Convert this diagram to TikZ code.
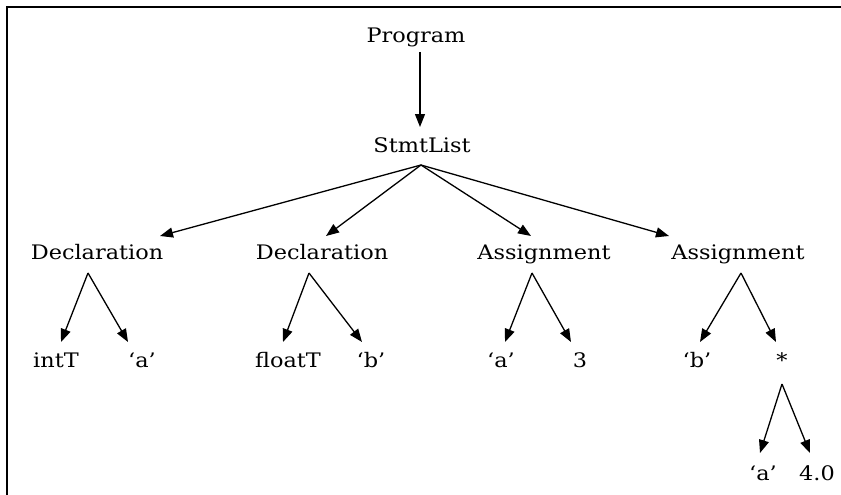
\documentclass[tikz,border=0pt]{standalone}
\usepackage{fontspec}
\setmainfont{DejaVu Serif}[FakeStretch=1.12]
\usetikzlibrary{arrows.meta,calc}
\tikzset{
  lbl/.style={anchor=base,inner sep=0pt,font=\fontsize{20}{24}\selectfont},
  arr/.style={line width=1.3pt,-{Triangle[length=13pt,width=10pt]}},
  frame/.style={line width=1.3pt}
}
\begin{document}
\begin{tikzpicture}[x=1pt,y=-1pt]
\useasboundingbox (0,0) rectangle (841,495);
\draw[frame] (7,495) -- (7,7) -- (841,7);
% nodes
\node[lbl] (prog) at (416,43) {Program};
\node[lbl] (stmt) at (422,152) {StmtList};
\node[lbl] (d1) at (97,259) {Declaration};
\node[lbl] (d2) at (322,259) {Declaration};
\node[lbl] (a1) at (544,259) {Assignment};
\node[lbl] (a2) at (738,259) {Assignment};
\node[lbl] (i1) at (56,367) {intT};
\node[lbl] (ia) at (142,367) {‘a’};
\node[lbl] (f) at (288,367) {floatT};
\node[lbl] (fb) at (371,367) {‘b’};
\node[lbl] (aa) at (501,367) {‘a’};
\node[lbl] (three) at (580,367) {3};
\node[lbl] (bb) at (697,367) {‘b’};
\node[lbl] (star) at (782,367) {*};
\node[lbl] (qa) at (763,480) {‘a’};
\node[lbl] (four) at (817,480) {4.0};
% edges
\draw[arr] ($(prog.base)+(4,9)$) -- ($(stmt.base)+(-2,-25)$);
\draw[arr] ($(stmt.base)+(-1,13)$) -- ($(d1.base)+(63,-23)$);
\draw[arr] ($(stmt.base)+(-1,13)$) -- ($(d2.base)+(4,-23)$);
\draw[arr] ($(stmt.base)+(-1,13)$) -- ($(a1.base)+(-13,-23)$);
\draw[arr] ($(stmt.base)+(-1,13)$) -- ($(a2.base)+(-69,-23)$);
\draw[arr] ($(d1.base)+(-9,14)$) -- ($(i1.base)+(5,-25)$);
\draw[arr] ($(d1.base)+(-9,14)$) -- ($(ia.base)+(-14,-25)$);
\draw[arr] ($(d2.base)+(-13,14)$) -- ($(f.base)+(-5,-25)$);
\draw[arr] ($(d2.base)+(-13,14)$) -- ($(fb.base)+(-9,-25)$);
\draw[arr] ($(a1.base)+(-12,14)$) -- ($(aa.base)+(4,-25)$);
\draw[arr] ($(a1.base)+(-12,14)$) -- ($(three.base)+(-9,-25)$);
\draw[arr] ($(a2.base)+(3,14)$) -- ($(bb.base)+(3,-25)$);
\draw[arr] ($(a2.base)+(3,14)$) -- ($(star.base)+(-6,-25)$);
\draw[arr] ($(star.base)+(0,17)$) -- ($(qa.base)+(-3,-27)$);
\draw[arr] ($(star.base)+(0,17)$) -- ($(four.base)+(-7,-27)$);
\end{tikzpicture}
\end{document}
